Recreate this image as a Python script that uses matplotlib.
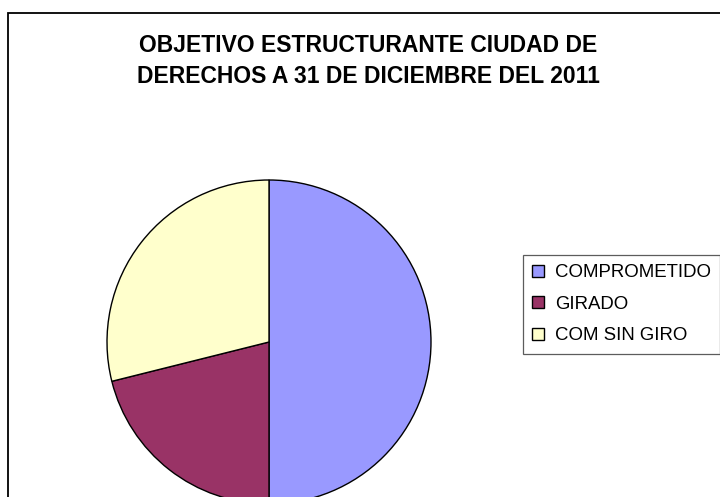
import matplotlib
matplotlib.use("Agg")
from matplotlib import pyplot as plt
from matplotlib.patches import Rectangle

# data
labels = ["COMPROMETIDO", "GIRADO", "COM SIN GIRO"]
values = [50.0, 21.1, 28.9]
colors = ["#9999FF", "#993366", "#FFFFCC"]
title = "OBJETIVO ESTRUCTURANTE CIUDAD DE\nDERECHOS A 31 DE DICIEMBRE DEL 2011"

W, H = 720, 497
plt.rcParams["font.family"] = ["Liberation Sans", "DejaVu Sans"]

fig = plt.figure(figsize=(W / 100, H / 100), dpi=100)

# chart area border (cut off at right and bottom)
frame = Rectangle((8 / W, -0.2), 2.0, (H - 13) / H + 0.2, transform=fig.transFigure,
                  fill=False, edgecolor="black", linewidth=1.3, clip_on=False)
fig.add_artist(frame)

fig.text(368 / W, 1 - 61 / H, title, ha="center", va="center", fontsize=16.5,
         fontweight="bold", linespacing=1.45)

# pie: centre (269, 342), radius 162 px
cx, cy, r = 269, 342, 162
ax = fig.add_axes([(cx - r) / W, (H - cy - r) / H, 2 * r / W, 2 * r / H])
wedges, _ = ax.pie(values, colors=colors, startangle=90, counterclock=False,
                   wedgeprops=dict(edgecolor="black", linewidth=1.0))
ax.set_xlim(-1, 1)
ax.set_ylim(-1, 1)
ax.set_aspect("auto")
ax.axis("off")
for w in wedges:
    w.set_clip_on(False)

leg = fig.legend(wedges, labels, loc="upper left",
                 bbox_to_anchor=(523 / W, 1 - 255 / H), bbox_transform=fig.transFigure,
                 fontsize=13.4, frameon=True, fancybox=False, shadow=False,
                 handlelength=0.65, handleheight=0.65, handletextpad=0.55,
                 labelspacing=0.78, borderpad=0.5, borderaxespad=0)
leg.get_frame().set_edgecolor("#333333")
leg.get_frame().set_linewidth(0.9)
for h in leg.legend_handles:
    h.set_linewidth(1.0)

fig.savefig("out.png", dpi=100)
